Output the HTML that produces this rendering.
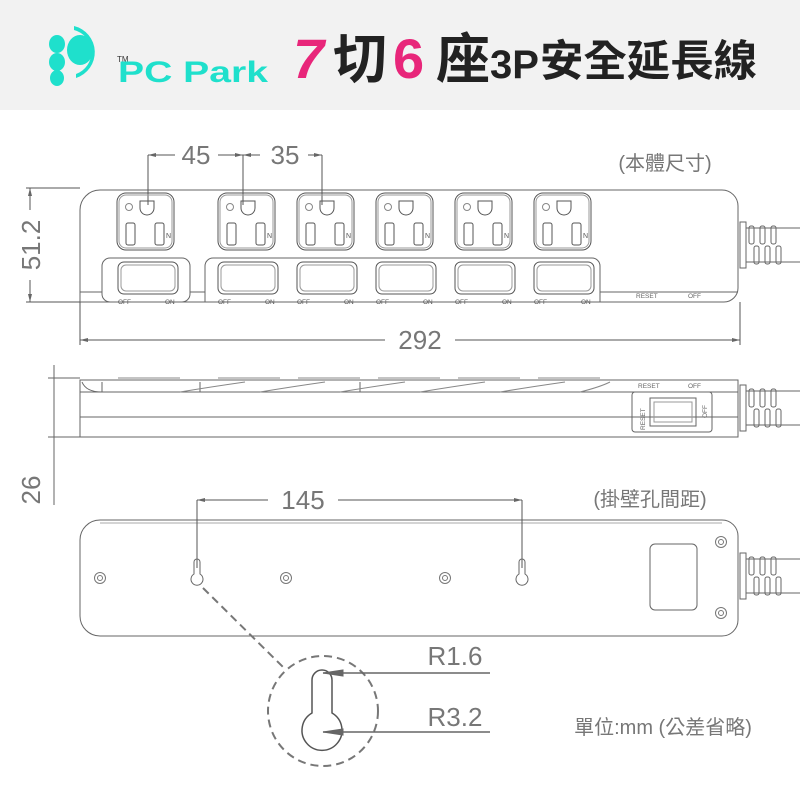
<!DOCTYPE html>
<html><head><meta charset="utf-8"><style>
html,body{margin:0;padding:0;background:#fff}
svg{display:block}
text{font-family:"Liberation Sans","Noto Sans CJK TC",sans-serif}
</style></head><body>
<svg width="800" height="800" viewBox="0 0 800 800" xmlns="http://www.w3.org/2000/svg">
<defs>
<g id="outlet" fill="none" stroke="#555" stroke-width="1">
 <rect x="0" y="0" width="57" height="57" rx="9"/>
 <rect x="2" y="2" width="53" height="53" rx="7" stroke="#999"/>
 <path d="M23 8 h14 v7 a7 7 0 0 1 -14 0 z"/>
 <circle cx="12" cy="14" r="3.5" stroke="#888"/>
 <rect x="9" y="30" width="9" height="22" rx="2"/>
 <rect x="38" y="30" width="9" height="22" rx="2"/>
 <text x="49" y="45" font-size="7" fill="#555" stroke="none">N</text>
</g>
<g id="sw" fill="none" stroke="#555" stroke-width="1">
 <rect x="0" y="0" width="60" height="32" rx="6"/>
 <rect x="3" y="3" width="54" height="26" rx="5" stroke="#999"/>
 <text x="0" y="42" font-size="6.5" fill="#555" stroke="none">OFF</text>
 <text x="47" y="42" font-size="6.5" fill="#555" stroke="none">ON</text>
</g>
<g id="cord" fill="none" stroke="#666" stroke-width="1">
 <rect x="0" y="0" width="6" height="46"/>
 <path d="M6 6 h54 M6 40 h54"/>
 <rect x="9" y="4" width="5" height="18" rx="2"/><rect x="20" y="4" width="5" height="18" rx="2"/><rect x="31" y="4" width="5" height="18" rx="2"/>
 <rect x="14" y="24" width="5" height="18" rx="2"/><rect x="25" y="24" width="5" height="18" rx="2"/><rect x="36" y="24" width="5" height="18" rx="2"/>
</g>
<g id="screw" fill="none" stroke="#777"><circle r="5.5"/><circle r="2.5"/></g>
</defs>
<rect x="0" y="0" width="800" height="110" fill="#f2f2f2"/>
<!-- logo -->
<g fill="#1fe0cc">
 <ellipse cx="57" cy="44" rx="8" ry="9"/><ellipse cx="57" cy="62" rx="8" ry="9"/><ellipse cx="57" cy="78" rx="7" ry="8"/>
 <ellipse cx="80" cy="50" rx="13" ry="15"/>
 <path d="M74 26 a27 27 0 0 1 2 52 l0 -4 a23 23 0 0 0 -2 -44 z"/>
</g>
<text x="117" y="62" font-size="8" fill="#333">TM</text>
<text x="118" y="82" font-size="30" font-weight="bold" fill="#1fe0cc" font-family="Liberation Serif,serif" textLength="150" lengthAdjust="spacingAndGlyphs">PC Park</text>
<text x="293" y="78" font-size="56" font-weight="bold" font-style="italic" fill="#e8267a">7</text>
<text x="333" y="78" font-size="54" font-weight="bold" fill="#222">切</text>
<text x="393" y="78" font-size="56" font-weight="bold" fill="#e8267a">6</text>
<text x="436" y="78" font-size="54" font-weight="bold" fill="#222">座</text>
<text x="490" y="78" font-size="40" font-weight="bold" fill="#222">3P</text>
<text x="540" y="76" font-size="43" font-weight="bold" fill="#222" textLength="217" lengthAdjust="spacingAndGlyphs">安全延長線</text>

<g fill="none" stroke="#666" stroke-width="1">
<!-- top view -->
<path d="M100 190 H722 a16 16 0 0 1 16 16 V288 a14 14 0 0 1 -14 14 H80 V210 a20 20 0 0 1 20 -20 z"/>
<path d="M80 292 H102 M190 292 H205 M600 292 H738"/>
<rect x="102" y="258" width="88" height="44" rx="8"/>
<path d="M205 302 V266 a8 8 0 0 1 8 -8 H592 a8 8 0 0 1 8 8 V302"/>
<path d="M148 155 V205 M243 155 V205 M322 155 V205" stroke="#555"/>
<path d="M148 155 H175 M218 155 H260 M308 155 H322" stroke="#555"/>
<path d="M30 188 V210 M30 280 V302 M26 188 H80 M26 302 H80" stroke="#555"/>
<path d="M80 302 V345 M740 302 V345 M80 340 H385 M455 340 H740" stroke="#555"/>
<!-- side view -->
<path d="M80 380 H738 V437 H80 z"/>
<path d="M80 392 H738 M80 417 H738 M60 437 H80"/>
<path d="M82 382 q4 10 20 10"/>
<path d="M102 382 V392 M200 382 V392 M360 382 V392"/>
<path d="M118 378 H180 M218 378 H280 M298 378 H360 M378 378 H440 M458 378 H520 M538 378 H600" stroke="#888"/>
<path d="M180 392 q30 -5 65 -10 M260 392 q30 -5 65 -10 M340 392 q30 -5 65 -10 M420 392 q30 -5 65 -10 M500 392 q30 -5 65 -10 M580 392 q20 -5 30 -10" stroke="#888"/>
<rect x="632" y="392" width="80" height="40" rx="3"/>
<rect x="650" y="398" width="46" height="28"/>
<rect x="654" y="402" width="38" height="20" stroke="#999"/>
<path d="M54 365 V505 M48 378 H80 M48 437 H60"/>
<!-- bottom view -->
<path d="M100 520 H722 a16 16 0 0 1 16 16 V620 a16 16 0 0 1 -16 16 H100 a20 20 0 0 1 -20 -20 V540 a20 20 0 0 1 20 -20 z"/>
<path d="M100 523 H722" stroke="#aaa"/>
<rect x="650" y="544" width="47" height="66" rx="5"/>
<path d="M197 500 V568 M522 500 V568 M197 500 H268 M338 500 H522" stroke="#555"/>
<path d="M194 562 a3 3 0 0 1 6 0 V574 a6 6 0 1 1 -6 0 z"/>
<path d="M519 562 a3 3 0 0 1 6 0 V574 a6 6 0 1 1 -6 0 z"/>
<path d="M203 588 L283 667" stroke="#777" stroke-width="2" stroke-dasharray="8 5"/>
<circle cx="323" cy="711" r="55" stroke="#777" stroke-width="2" stroke-dasharray="8 5"/>
<path d="M312 713 V680 a10 10 0 0 1 20 0 V713 a20 20 0 1 1 -20 0 z" stroke="#555" stroke-width="1.5"/>
<path d="M323 673 H490 M323 732 H490" stroke="#666" stroke-width="1.5"/>
<path d="M323 673 l20 -3 v6 z M323 732 l20 -3 v6 z" fill="#666"/>
</g>
<g fill="#666" stroke="none">
<path d="M148 155 l8 -2 v4 z M243 155 l-8 -2 v4 z M243 155 l8 -2 v4 z M322 155 l-8 -2 v4 z M30 188 l-2 8 h4 z M30 302 l-2 -8 h4 z M80 340 l8 -2 v4 z M740 340 l-8 -2 v4 z M197 500 l8 -2 v4z M522 500 l-8 -2 v4z"/>
</g>
<use href="#outlet" x="117" y="193"/><use href="#outlet" x="218" y="193"/><use href="#outlet" x="297" y="193"/>
<use href="#outlet" x="376" y="193"/><use href="#outlet" x="455" y="193"/><use href="#outlet" x="534" y="193"/>
<use href="#sw" x="118" y="262"/><use href="#sw" x="218" y="262"/><use href="#sw" x="297" y="262"/>
<use href="#sw" x="376" y="262"/><use href="#sw" x="455" y="262"/><use href="#sw" x="534" y="262"/>
<use href="#cord" x="740" y="222"/><use href="#cord" x="740" y="385"/><use href="#cord" x="740" y="553"/>
<use href="#screw" x="100" y="578"/><use href="#screw" x="286" y="578"/><use href="#screw" x="445" y="578"/>
<use href="#screw" x="721" y="542"/><use href="#screw" x="721" y="613"/>
<g fill="#666" font-size="6.5">
<text x="636" y="298">RESET</text><text x="688" y="298">OFF</text>
<text x="638" y="388">RESET</text><text x="688" y="388">OFF</text>
<text transform="translate(645,430) rotate(-90)">RESET</text>
<text transform="translate(707,418) rotate(-90)">OFF</text>
</g>
<g fill="#777" font-size="26">
<text x="196" y="164" text-anchor="middle">45</text>
<text x="285" y="164" text-anchor="middle">35</text>
<text x="420" y="349" text-anchor="middle">292</text>
<text x="303" y="509" text-anchor="middle">145</text>
<text transform="translate(40,245) rotate(-90)" text-anchor="middle">51.2</text>
<text transform="translate(40,490) rotate(-90)" text-anchor="middle">26</text>
<text x="455" y="665" text-anchor="middle">R1.6</text>
<text x="455" y="726" text-anchor="middle">R3.2</text>
</g>
<g fill="#777" font-size="20">
<text x="665" y="170" text-anchor="middle">(本體尺寸)</text>
<text x="650" y="506" text-anchor="middle">(掛壁孔間距)</text>
<text x="663" y="734" text-anchor="middle">單位:mm (公差省略)</text>
</g>
</svg>
</body></html>
